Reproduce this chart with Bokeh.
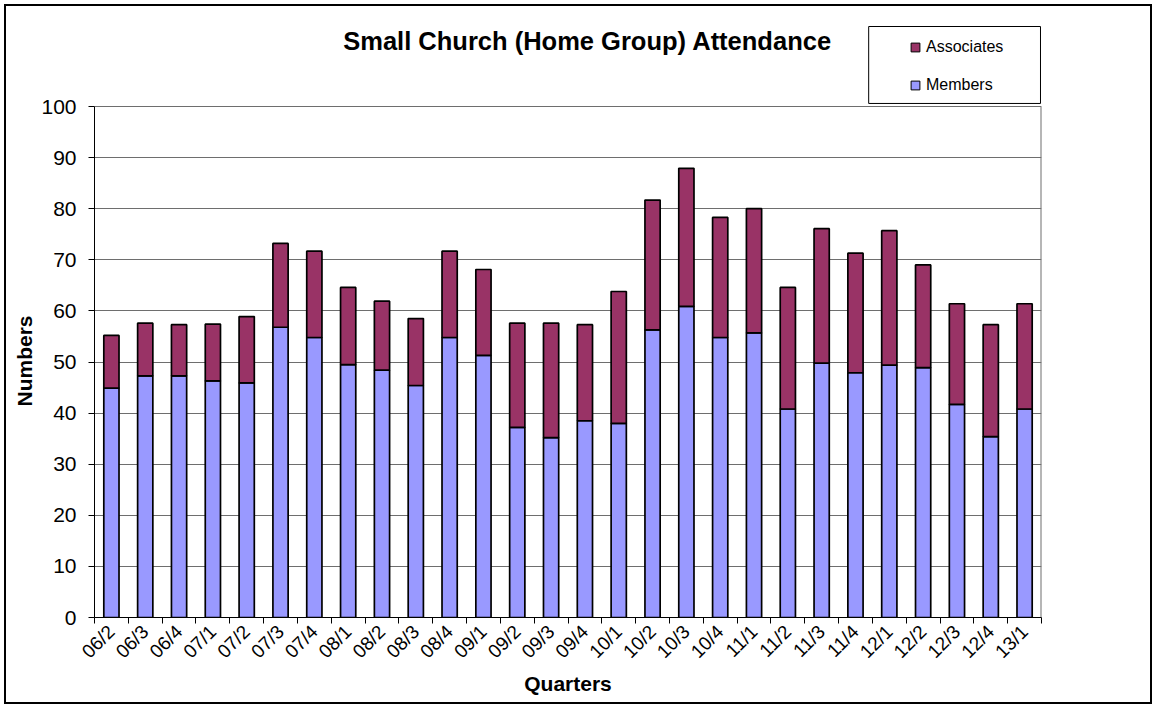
import math
from bokeh.plotting import figure
from bokeh.models import (BoxAnnotation, ColumnDataSource, FixedTicker, Label, Legend,
                          LegendItem, Range1d, Title)
from bokeh.embed import file_html
from bokeh.resources import INLINE

# ---- data ----
quarters = ["06/2", "06/3", "06/4", "07/1", "07/2", "07/3", "07/4", "08/1", "08/2", "08/3",
            "08/4", "09/1", "09/2", "09/3", "09/4", "10/1", "10/2", "10/3", "10/4", "11/1",
            "11/2", "11/3", "11/4", "12/1", "12/2", "12/3", "12/4", "13/1"]
members = [44.9, 47.3, 47.3, 46.3, 45.9, 56.8, 54.8, 49.5, 48.4, 45.4,
           54.8, 51.3, 37.2, 35.2, 38.5, 38.0, 56.3, 60.9, 54.8, 55.7,
           40.8, 49.8, 47.9, 49.4, 48.9, 41.7, 35.4, 40.8]
associates = [10.3, 10.3, 10.0, 11.1, 13.0, 16.4, 16.9, 15.1, 13.5, 13.1,
              16.9, 16.8, 20.4, 22.4, 18.8, 25.8, 25.4, 27.0, 23.5, 24.3,
              23.8, 26.3, 23.4, 26.3, 20.1, 19.7, 21.9, 20.6]
y_ticks = [0, 10, 20, 30, 40, 50, 60, 70, 80, 90, 100]
y_max = 100

FONT = "Liberation Sans"
MEMBER_COLOR = "#9999FF"
ASSOC_COLOR = "#993366"
GRID_COLOR = "#6e6e6e"

n = len(quarters)
xpos = list(range(n))
src = ColumnDataSource(dict(x=xpos, members=members, associates=associates))

# the frame reaches up to the top so the title and legend sit inside it
p = figure(width=1148, height=700, output_backend="svg", toolbar_location=None,
           x_range=Range1d(-0.5, n - 0.5), y_range=Range1d(0, 118.4),
           min_border_left=88, min_border_top=6, min_border_right=113, min_border_bottom=89)
p.styles = {"border": "2px solid black", "margin-left": "4px", "margin-top": "4px"}
p.background_fill_color = "white"
p.border_fill_color = "white"
p.outline_line_color = None

p.vbar_stack(["members", "associates"], x="x", width=0.45, source=src,
             fill_color=[MEMBER_COLOR, ASSOC_COLOR], line_color="black", line_width=1.7)

# right edge of the plot area
p.segment(x0=[n - 0.5], y0=[0], x1=[n - 0.5], y1=[y_max], line_color=GRID_COLOR, line_width=2)

# grid
p.xgrid.visible = False
p.ygrid.ticker = FixedTicker(ticks=y_ticks)
p.ygrid.grid_line_color = GRID_COLOR
p.ygrid.grid_line_width = 1

# y axis
p.yaxis.ticker = FixedTicker(ticks=y_ticks)
p.yaxis.bounds = (0, y_max)
p.yaxis.major_label_text_font = FONT
p.yaxis.major_label_text_font_size = "21px"
p.yaxis.major_label_text_color = "black"
p.yaxis.major_label_standoff = 12
p.yaxis.major_tick_out = 6
p.yaxis.major_tick_in = 0
p.yaxis.minor_tick_out = 0
p.yaxis.minor_tick_in = 0
p.yaxis.axis_line_color = "black"
p.yaxis.major_tick_line_color = "black"

ytitle = Title(text="Numbers", align="left", offset=211, standoff=5,
               text_font=FONT, text_font_style="bold", text_font_size="21px",
               text_color="black")
p.add_layout(ytitle, "left")

# x axis: labels at category centres, tick marks between categories
p.xaxis.ticker = FixedTicker(ticks=xpos, minor_ticks=[i - 0.5 for i in range(n + 1)])
p.xaxis.major_label_overrides = {i: q for i, q in enumerate(quarters)}
p.xaxis.major_label_orientation = math.pi / 4
p.xaxis.major_label_text_font = FONT
p.xaxis.major_label_text_font_size = "19px"
p.xaxis.major_label_text_color = "black"
p.xaxis.major_label_standoff = 5
p.xaxis.major_tick_out = 0
p.xaxis.major_tick_in = 0
p.xaxis.minor_tick_out = 6
p.xaxis.minor_tick_in = 0
p.xaxis.minor_tick_line_color = "black"
p.xaxis.axis_line_color = "black"
p.xaxis.axis_label = "Quarters"
p.xaxis.axis_label_text_font = FONT
p.xaxis.axis_label_text_font_style = "bold"
p.xaxis.axis_label_text_font_size = "21px"
p.xaxis.axis_label_text_color = "black"
p.xaxis.axis_label_standoff = 0

# chart title
title = Label(x=14.08, y=112.9,
              text="Small Church (Home Group) Attendance",
              text_font=FONT, text_font_style="bold", text_font_size="25.5px",
              text_align="center", text_baseline="middle", text_color="black")
p.add_layout(title)

# legend frame
legend_box = BoxAnnotation(left=22.39, right=27.47, bottom=100.6, top=115.66,
                           fill_color="white", fill_alpha=1.0,
                           line_color="black", line_width=1, line_alpha=1.0, level="annotation")
p.add_layout(legend_box)

# legend (square swatches)
nan = float("nan")
sw_a = p.scatter(x=[nan], y=[nan], marker="square", fill_color=ASSOC_COLOR,
                 line_color="black", line_width=1)
sw_m = p.scatter(x=[nan], y=[nan], marker="square", fill_color=MEMBER_COLOR,
                 line_color="black", line_width=1)
legend = Legend(items=[LegendItem(label="Associates", renderers=[sw_a]),
                       LegendItem(label="Members", renderers=[sw_m])],
                location=(810, 521), orientation="vertical",
                padding=0, spacing=16, margin=0,
                glyph_width=22, glyph_height=22, label_height=22, label_width=60,
                label_standoff=0,
                label_text_font=FONT, label_text_font_size="16px", label_text_color="black",
                border_line_color=None, background_fill_alpha=0.0)
p.add_layout(legend, "center")

open("out.html", "w").write(file_html(p, INLINE))
